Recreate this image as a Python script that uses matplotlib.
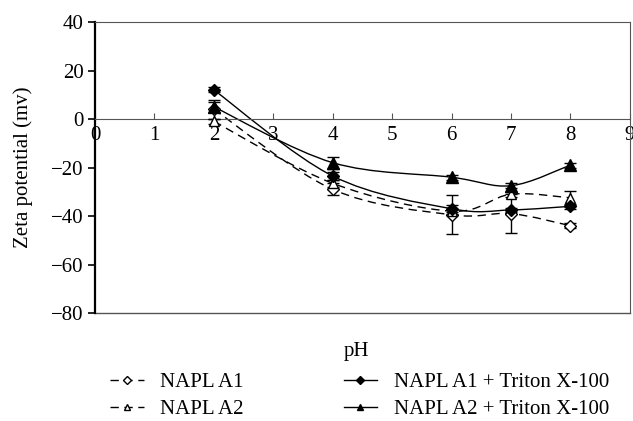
import matplotlib
matplotlib.use("Agg")
import matplotlib.pyplot as plt
import numpy as np
from matplotlib.lines import Line2D
from matplotlib.patches import PathPatch
from matplotlib.path import Path

plt.rcParams["font.family"] = ["Liberation Serif", "DejaVu Serif"]

ph = [2, 4, 6, 7, 8]

a1 = [4, -29, -39.5, -39, -44]
a1_err = [4, 2.5, 8, 8, 1]
a2 = [-1, -26.5, -38, -31, -32.5]
a2_err = [1, 1.5, 1, 1, 3]
a1_triton = [12, -23.5, -37, -37.5, -36]
a1_triton_err = [1, 1.5, 1.5, 1, 1]
a2_triton = [5, -18, -24, -27.5, -19]
a2_triton_err = [2, 2.5, 1, 1, 1]

x_ticks = list(range(0, 10))
y_ticks = [-80, -60, -40, -20, 0, 20, 40]

GRAY = "#555555"
FS = 15


def smooth_path(x, y):
    # Excel style smoothed line as cubic bezier through the points
    pts = np.column_stack([x, y]).astype(float)
    ext = np.vstack([pts[0], pts, pts[-1]])
    verts = [pts[0]]
    codes = [Path.MOVETO]
    for i in range(1, len(ext) - 2):
        p0, p1, p2, p3 = ext[i - 1], ext[i], ext[i + 1], ext[i + 2]
        verts += [p1 + (p2 - p0) / 6, p2 - (p3 - p1) / 6, p2]
        codes += [Path.CURVE4] * 3
    return Path(verts, codes)


series = [
    ("NAPL A1", a1, a1_err, "D", "white", (0, (6, 4)), 6),
    ("NAPL A2", a2, a2_err, "^", "white", (0, (6, 4)), 7),
    ("NAPL A1 + Triton X-100", a1_triton, a1_triton_err, "D", "black", "-", 6.5),
    ("NAPL A2 + Triton X-100", a2_triton, a2_triton_err, "^", "black", "-", 8.5),
]

fig = plt.figure(figsize=(6.33, 4.21), dpi=100)
ax = fig.add_axes([0.150, 0.2565, 0.845, 0.6912])

handles = []
for label, values, errors, marker, face, style, size in series:
    ax.add_patch(PathPatch(smooth_path(ph, values), fill=False,
                           edgecolor="black", linewidth=1.0, linestyle=style, zorder=2))
    ax.errorbar(ph, values, yerr=errors, fmt="none", ecolor="black",
                elinewidth=1.0, capsize=4, capthick=1.0, zorder=3)
    ax.plot(ph, values, linestyle="none", marker=marker, markersize=size,
            markerfacecolor=face, markeredgecolor="black", markeredgewidth=1.0, zorder=4)
    handles.append(Line2D([], [], color="black", linewidth=1.0, linestyle=style,
                          marker=marker, markersize=4, markerfacecolor=face,
                          markeredgecolor="black", label=label))

ax.set_xlim(0, 9)
ax.set_ylim(-80, 40)
ax.set_xticks(x_ticks)
ax.set_yticks(y_ticks)
ax.set_yticklabels([f"{v}".replace("-", "\u2212") for v in y_ticks])

ax.spines["bottom"].set_position(("data", 0))
ax.spines["bottom"].set_color(GRAY)
ax.spines["top"].set_color(GRAY)
ax.spines["right"].set_color(GRAY)
ax.spines["left"].set_color("black")
ax.spines["left"].set_linewidth(1.6)
ax.axhline(-80, color=GRAY, linewidth=1.0, clip_on=False, zorder=1)

ax.tick_params(axis="x", direction="in", length=4, pad=5, labelsize=FS, color=GRAY)
ax.tick_params(axis="y", direction="out", length=5, width=1.2, pad=3, labelsize=FS)

ax.set_ylabel("Zeta potential (mv)", fontsize=FS, labelpad=13)
fig.text(0.563, 0.164, "pH", ha="center", va="center", fontsize=FS)

fig.legend(handles=handles, loc="center", bbox_to_anchor=(0.568, 0.06), ncol=2,
           frameon=False, fontsize=FS, handlelength=1.6, handletextpad=0.8,
           columnspacing=4.8, labelspacing=0.35)

fig.savefig("out.png", dpi=100)
